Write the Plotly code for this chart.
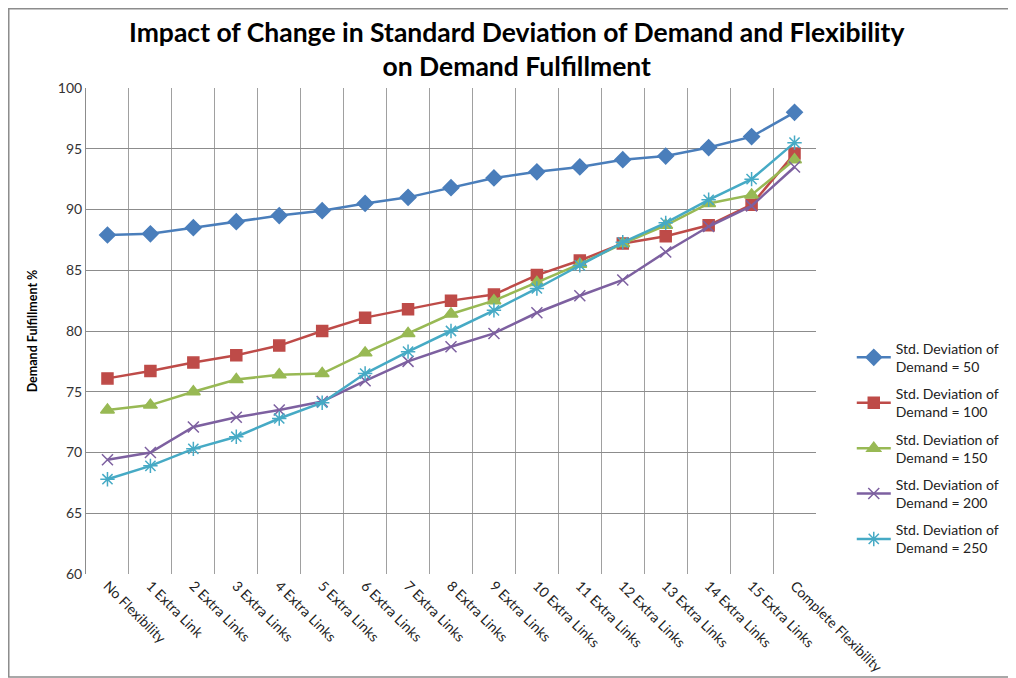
import plotly.graph_objs as go

categories = ["No Flexibility", "1 Extra Link", "2 Extra Links", "3 Extra Links",
              "4 Extra Links", "5 Extra Links", "6 Extra Links", "7 Extra Links",
              "8 Extra Links", "9 Extra Links", "10 Extra Links", "11 Extra Links",
              "12 Extra Links", "13 Extra Links", "14 Extra Links", "15 Extra Links",
              "Complete Flexibility"]

sd_50 = [87.9, 88.0, 88.5, 89.0, 89.5, 89.9, 90.5, 91.0, 91.8, 92.6, 93.1,
         93.5, 94.1, 94.4, 95.1, 96.0, 98.0]
sd_100 = [76.1, 76.7, 77.4, 78.0, 78.8, 80.0, 81.1, 81.8, 82.5, 83.0, 84.6,
          85.8, 87.2, 87.8, 88.7, 90.4, 94.6]
sd_150 = [73.5, 73.9, 75.0, 76.0, 76.4, 76.5, 78.2, 79.8, 81.4, 82.5, 84.0,
          85.5, 87.2, 88.7, 90.5, 91.2, 94.1]
sd_200 = [69.4, 70.0, 72.1, 72.9, 73.5, 74.2, 75.9, 77.5, 78.7, 79.8, 81.5,
          82.9, 84.2, 86.5, 88.6, 90.3, 93.5]
sd_250 = [67.8, 68.9, 70.3, 71.3, 72.8, 74.1, 76.5, 78.3, 80.0, 81.7, 83.5,
          85.4, 87.3, 88.9, 90.8, 92.5, 95.5]

series = [
    ("Std. Deviation of<br>Demand = 50", sd_50, "#4A7EBB", "diamond", 12),
    ("Std. Deviation of<br>Demand = 100", sd_100, "#BE4B48", "square", 11),
    ("Std. Deviation of<br>Demand = 150", sd_150, "#98B954", "triangle-up", 12),
    ("Std. Deviation of<br>Demand = 200", sd_200, "#7D60A0", "x-thin", 11),
    ("Std. Deviation of<br>Demand = 250", sd_250, "#46AAC5", "asterisk", 12),
]

fig = go.Figure()
for name, vals, color, symbol, size in series:
    fig.add_trace(go.Scatter(
        x=categories, y=vals, name=name, mode="lines+markers",
        legendgroup=name,
        line=dict(color=color, width=2.5),
        marker=dict(symbol=symbol, size=size, color=color,
                    line=dict(color=color, width=1.5)),
    ))

fig.update_xaxes(
    type="category", tickson="boundaries", showgrid=True,
    gridcolor="#A0A0A0", gridwidth=1, showline=False, zeroline=False,
    tickangle=45, tickfont=dict(size=14, color="#222222"),
    ticks="", range=[-0.5, 16.5], automargin=False,
)
fig.update_yaxes(
    range=[60, 100], dtick=5, showgrid=True, gridcolor="#8C8C8C",
    showline=True, linecolor="#8C8C8C", linewidth=1, zeroline=False,
    ticks="", tickfont=dict(size=14, color="#333333"), automargin=False,
    title=dict(text="<b>Demand Fulfillment %</b>", font=dict(size=12.5, color="black"),
               standoff=17),
)

# page body has an 8px margin, so the figure sits 8px in from the window corner
fig.update_layout(
    width=1016, height=678,
    template=None,
    font=dict(family="Lato, 'Open Sans', sans-serif", color="black"),
    legend=dict(
        x=1.049, y=0.259, xanchor="left", yanchor="middle",
        font=dict(size=14, color="#222222"), tracegroupgap=6,
        traceorder="grouped", itemwidth=34, bgcolor="rgba(0,0,0,0)",
    ),
    margin=dict(l=78, r=208, t=80, b=112),
    paper_bgcolor="white", plot_bgcolor="white",
    annotations=[dict(
        text="<b>Impact of Change in Standard Deviation of Demand and Flexibility"
             "<br>on Demand Fulfillment</b>",
        xref="paper", yref="paper", x=0.59, y=1.08,
        xanchor="center", yanchor="middle", showarrow=False,
        font=dict(size=26.5, color="black"),
    )],
    shapes=[dict(type="rect", xref="paper", yref="paper",
                 x0=-0.1058, x1=1.3, y0=-0.212, y1=1.163,
                 line=dict(color="#8C8C8C", width=1.5))],
)

fig.write_html("out.html")
